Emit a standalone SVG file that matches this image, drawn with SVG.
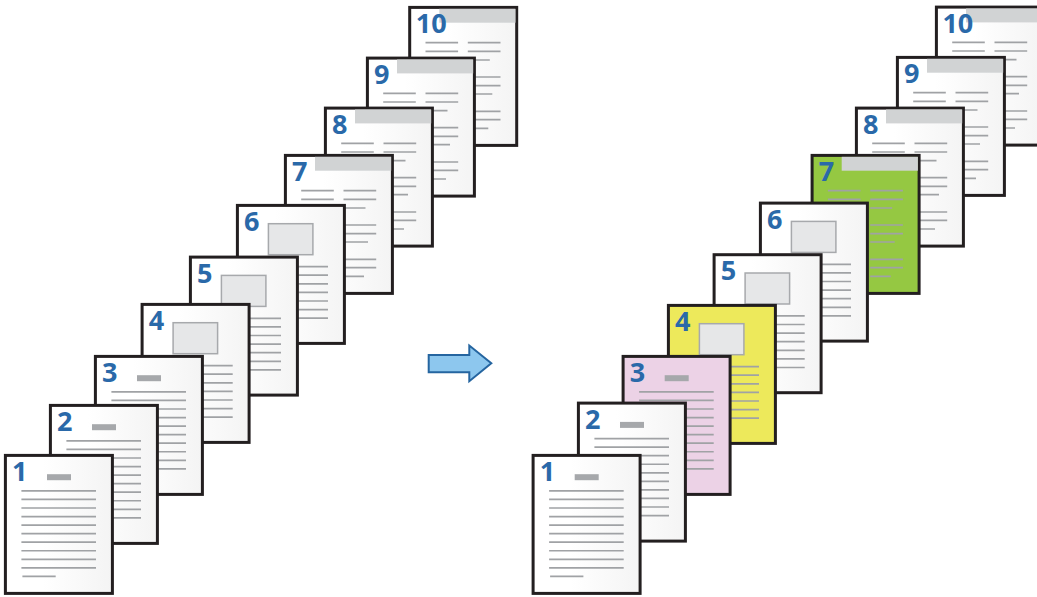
<svg xmlns="http://www.w3.org/2000/svg" xmlns:xlink="http://www.w3.org/1999/xlink" width="1037" height="597" viewBox="0 0 1037 597">
<style>
.frame{stroke:#231f20;stroke-width:3}
.white{fill:url(#pg)}
.pink{fill:#ecd2e6}
.yellow{fill:#ede95b}
.green{fill:#95c842}
.ln{stroke:#a0a2a5;stroke-width:1.7;fill:none}
.bar{fill:#a6a8ab}
.hdr{fill:#d1d3d4}
.box{fill:#e6e7e8;stroke:#a7a9ac;stroke-width:1.5}
.num{font-family:"Open Sans","Liberation Sans",sans-serif;font-weight:700;font-size:27px;fill:#2a69a9}
.arrow{fill:#8dc7ee;stroke:#2565a0;stroke-width:2;stroke-linejoin:miter}
</style>
<defs>
<linearGradient id="pg" x1="0" y1="0" x2="1" y2="0">
<stop offset="0.35" stop-color="#ffffff"/>
<stop offset="1" stop-color="#f4f4f4"/>
</linearGradient>
<g id="textc">
<rect class="bar" x="41.6" y="18.8" width="24" height="6"/>
<path class="ln" d="M16 35.5H90.6M16 44.05H90.6M16 52.6H90.6M16 61.15H90.6M16 69.7H90.6M16 78.25H90.6M16 86.8H90.6M16 95.35H90.6M16 103.9H90.6M16 112.45H90.6"/>
</g>
<path id="shortl" class="ln" d="M17 121H50.3"/>
<g id="imgc">
<rect class="box" x="31" y="18.3" width="44.5" height="31"/>
<path class="ln" d="M16 61.2H90.6M16 69.8H90.6M16 78.4H90.6M16 87H90.6M16 95.6H90.6M16 104.2H90.6M16 112.8H90.6"/>
</g>
<g id="colc">
<rect class="hdr" x="29.6" y="1.4" width="76.2" height="13.9"/>
<path class="ln" d="M15.8 35.3H48.4M15.8 43.9H48.4M15.8 52.6H38M15.8 69.6H48.4M15.8 78.3H48.4M15.8 86.6H40M15.8 103.9H48.4M15.8 112.3H48.4M15.8 120.9H38"/>
<path class="ln" d="M58.1 35.3H90.8M58.1 43.9H90.8M58.1 52.6H80.1M58.1 69.6H90.8M58.1 78.3H90.8M58.1 86.6H82.6M58.1 103.9H90.8M58.1 112.3H90.8M58.1 120.9H78.6"/>
</g>
</defs>

<g id="left-stack">
<g id="L10" transform="translate(409.7,7.4)"><rect class="frame white" width="107" height="138"/><use xlink:href="#colc"/><text class="num" x="6" y="25.6">10</text></g>
<g id="L9" transform="translate(367.4,58.1)"><rect class="frame white" width="107" height="138"/><use xlink:href="#colc"/><text class="num" x="6.6" y="25.6">9</text></g>
<g id="L8" transform="translate(325.4,108.1)"><rect class="frame white" width="107" height="138"/><use xlink:href="#colc"/><text class="num" x="6.6" y="25.6">8</text></g>
<g id="L7" transform="translate(285.4,155.4)"><rect class="frame white" width="107" height="138"/><use xlink:href="#colc"/><text class="num" x="6.6" y="25.6">7</text></g>
<g id="L6" transform="translate(237.4,205.4)"><rect class="frame white" width="107" height="138"/><use xlink:href="#imgc"/><text class="num" x="6.6" y="25.6">6</text></g>
<g id="L5" transform="translate(190.4,257.1)"><rect class="frame white" width="107" height="138"/><use xlink:href="#imgc"/><text class="num" x="6.6" y="25.6">5</text></g>
<g id="L4" transform="translate(142.1,304.4)"><rect class="frame white" width="107" height="138"/><use xlink:href="#imgc"/><text class="num" x="6.6" y="25.6">4</text></g>
<g id="L3" transform="translate(95.4,356.4)"><rect class="frame white" width="107" height="138"/><use xlink:href="#textc"/><text class="num" x="6.6" y="25.6">3</text></g>
<g id="L2" transform="translate(50.4,405.4)"><rect class="frame white" width="107" height="138"/><use xlink:href="#textc"/><text class="num" x="6.6" y="25.6">2</text></g>
<g id="L1" transform="translate(5.4,455.4)"><rect class="frame white" width="107" height="138"/><use xlink:href="#textc"/><use xlink:href="#shortl"/><text class="num" x="6.6" y="25.6">1</text></g>
</g>

<g id="connectors">
<polygon class="arrow" points="428.7,355 469.3,355 469.3,345.5 491.3,363.3 469.3,381.2 469.3,372.3 428.7,372.3"/>
</g>

<g id="right-stack">
<g id="R10" transform="translate(936.4,7.1)"><rect class="frame white" width="107" height="138"/><use xlink:href="#colc"/><text class="num" x="6" y="25.6">10</text></g>
<g id="R9" transform="translate(897.4,57.4)"><rect class="frame white" width="107" height="138"/><use xlink:href="#colc"/><text class="num" x="6.6" y="25.6">9</text></g>
<g id="R8" transform="translate(856.4,108.1)"><rect class="frame white" width="107" height="138"/><use xlink:href="#colc"/><text class="num" x="6.6" y="25.6">8</text></g>
<g id="R7" transform="translate(812.1,155.4)"><rect class="frame green" width="107" height="138"/><use xlink:href="#colc"/><text class="num" x="6.6" y="25.6">7</text></g>
<g id="R6" transform="translate(760.4,203.1)"><rect class="frame white" width="107" height="138"/><use xlink:href="#imgc"/><text class="num" x="6.6" y="25.6">6</text></g>
<g id="R5" transform="translate(714.1,254.7)"><rect class="frame white" width="107" height="138"/><use xlink:href="#imgc"/><text class="num" x="6.6" y="25.6">5</text></g>
<g id="R4" transform="translate(668.4,305.4)"><rect class="frame yellow" width="107" height="138"/><use xlink:href="#imgc"/><text class="num" x="6.6" y="25.6">4</text></g>
<g id="R3" transform="translate(623.1,356.4)"><rect class="frame pink" width="107" height="138"/><use xlink:href="#textc"/><text class="num" x="6.6" y="25.6">3</text></g>
<g id="R2" transform="translate(578.4,403.1)"><rect class="frame white" width="107" height="138"/><use xlink:href="#textc"/><text class="num" x="6.6" y="25.6">2</text></g>
<g id="R1" transform="translate(533.1,455.4)"><rect class="frame white" width="107" height="138"/><use xlink:href="#textc"/><use xlink:href="#shortl"/><text class="num" x="6.6" y="25.6">1</text></g>
</g>
</svg>
